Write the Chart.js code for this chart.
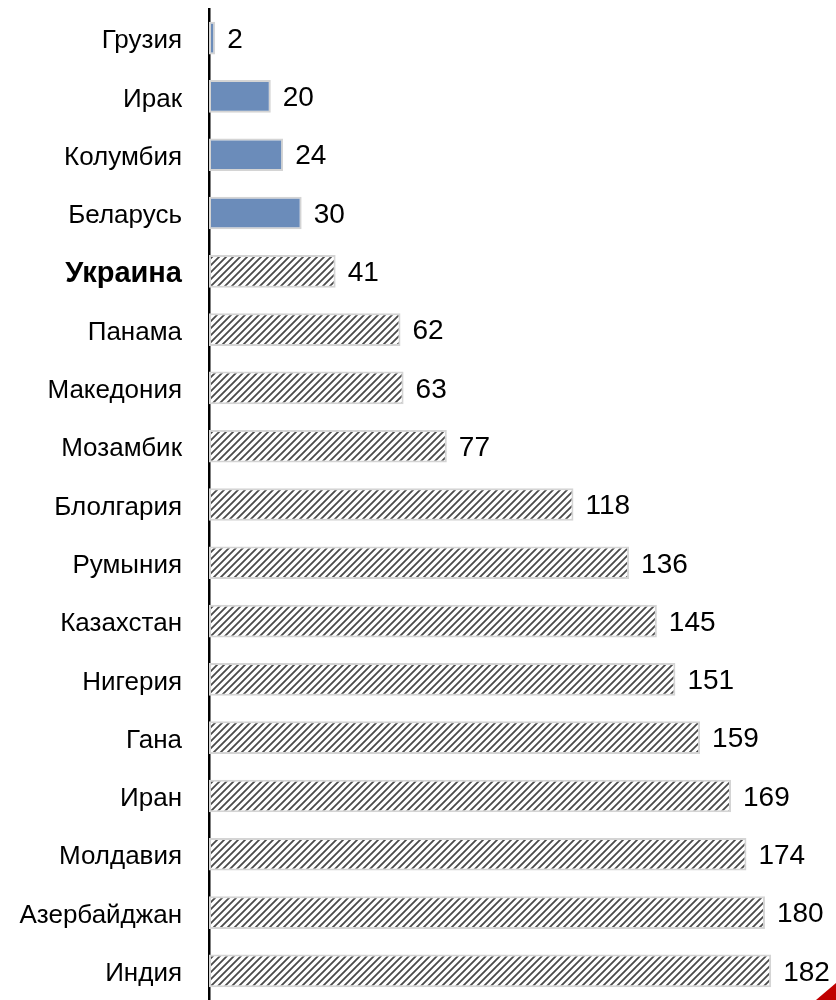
<!DOCTYPE html>
<html>
<head>
<meta charset="utf-8">
<script src="https://cdn.jsdelivr.net/npm/chart.js@4.4.0/dist/chart.umd.min.js"></script>
<style>
  html, body { margin: 0; padding: 0; background: #fff; }
  #wrap { width: 836px; height: 1000px; }
</style>
</head>
<body>
<div id="wrap"><canvas id="chart"></canvas></div>
<script>
const countries = ["Грузия", "Ирак", "Колумбия", "Беларусь", "Украина", "Панама", "Македония", "Мозамбик",
  "Блолгария", "Румыния", "Казахстан", "Нигерия", "Гана", "Иран", "Молдавия", "Азербайджан", "Индия"]
const values = [2, 20, 24, 30, 41, 62, 63, 77, 118, 136, 145, 151, 159, 169, 174, 180, 182]
const highlighted = "Украина"
const solidCount = 4

// diagonal hatch for the rest of the bars
function makeHatch() {
  const n = 7
  const c = document.createElement("canvas")
  c.width = n
  c.height = n
  const g = c.getContext("2d")
  g.fillStyle = "#ffffff"
  g.fillRect(0, 0, n, n)
  g.strokeStyle = "#4a4a4a"
  g.lineWidth = 1.8
  g.beginPath()
  g.moveTo(-1, n + 1); g.lineTo(n + 1, -1)
  g.moveTo(-1, 1); g.lineTo(1, -1)
  g.moveTo(n - 1, n + 1); g.lineTo(n + 1, n - 1)
  g.stroke()
  return g.createPattern(c, "repeat")
}

const hatch = makeHatch()
const fills = values.map((v, i) => (i < solidCount ? "#6b8cba" : hatch))

const valueLabels = {
  id: "valueLabels",
  afterDatasetsDraw(chart) {
    const ctx = chart.ctx
    const meta = chart.getDatasetMeta(0)
    ctx.save()
    ctx.font = "28px 'Liberation Sans', Arial, sans-serif"
    ctx.fillStyle = "#000"
    ctx.textBaseline = "middle"
    meta.data.forEach((bar, i) => {
      ctx.fillText(String(values[i]), bar.x + 12, bar.y + 2)
    })
    // small red corner mark
    ctx.fillStyle = "#c00000"
    ctx.beginPath()
    ctx.moveTo(836, 983)
    ctx.lineTo(836, 1000)
    ctx.lineTo(816, 1000)
    ctx.closePath()
    ctx.fill()
    ctx.restore()
  }
}

new Chart(document.getElementById("chart"), {
  type: "bar",
  data: {
    labels: countries,
    datasets: [{
      data: values,
      backgroundColor: fills,
      borderColor: "#d4d4d4",
      borderWidth: 2,
      borderSkipped: false,
      barPercentage: 0.56,
      categoryPercentage: 1
    }]
  },
  options: {
    indexAxis: "y",
    responsive: true,
    maintainAspectRatio: false,
    animation: false,
    layout: { padding: { top: 9, right: 0, bottom: 0, left: 0 } },
    plugins: {
      legend: { display: false },
      tooltip: { enabled: false }
    },
    scales: {
      x: {
        display: false,
        min: 0,
        max: 203
      },
      y: {
        grid: { display: false, drawTicks: false },
        border: { display: true, color: "#000", width: 2.5 },
        afterFit(scale) {
          scale.width = 209
          scale.paddingTop = 0
          scale.paddingBottom = 0
        },
        ticks: {
          padding: 27,
          labelOffset: 3,
          color: "#000",
          font: (c) => countries[c.index] === highlighted
            ? { family: "'Liberation Sans', Arial, sans-serif", size: 29, weight: "bold" }
            : { family: "'Liberation Sans', Arial, sans-serif", size: 26 }
        }
      }
    }
  },
  plugins: [valueLabels]
})
</script>
</body>
</html>
